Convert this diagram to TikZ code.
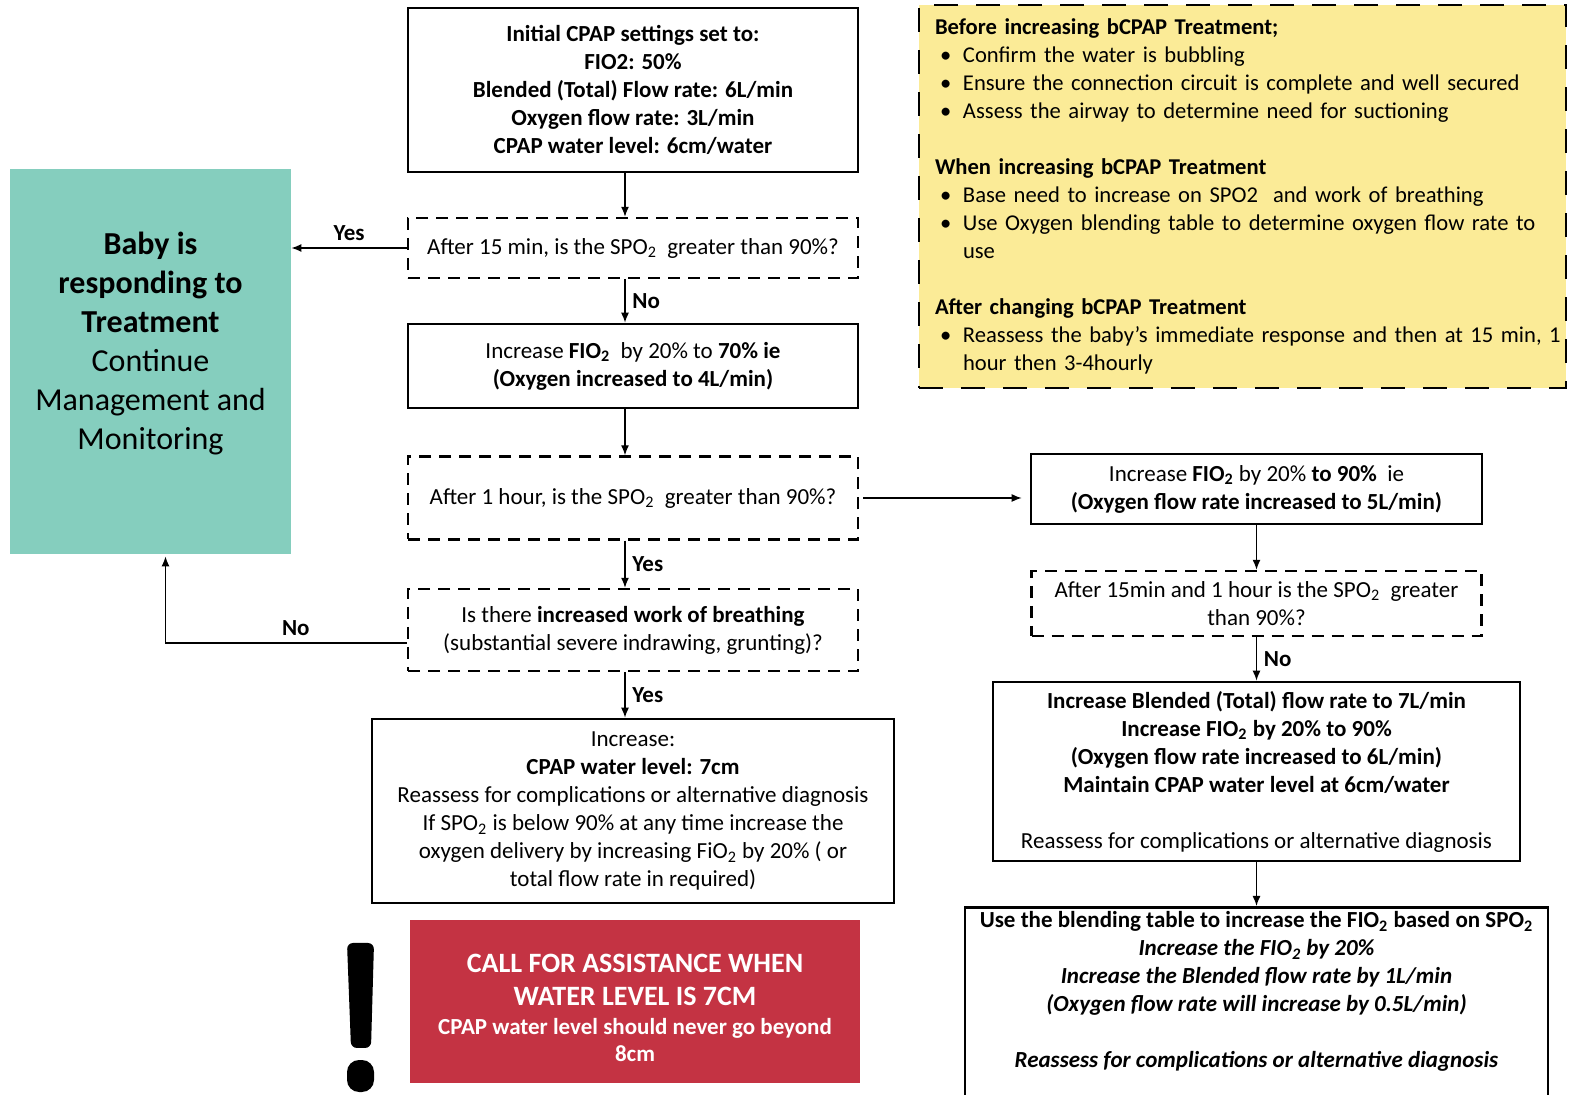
\documentclass[tikz,border=0pt]{standalone}
\usepackage{fontspec}
\setmainfont{Carlito}
\usetikzlibrary{arrows.meta,positioning}

\definecolor{tealbox}{HTML}{85CEBE}
\definecolor{notebg}{HTML}{FBEB97}
\definecolor{alarm}{HTML}{C43343}

\newcommand\osub{\textsubscript{2}}
\newcommand\itm[1]{\par\hangindent=14pt\hangafter=1\noindent\hspace*{2.5pt}\makebox[11.5pt][l]{\textbullet}#1}

\begin{document}
\begin{tikzpicture}[x=0.5pt,y=-0.5pt,
    box/.style={draw,line width=1.3pt,minimum width=225pt,align=center,inner sep=3pt,
                font=\fontsize{11.5}{14}\selectfont},
    ask/.style={box,line width=1.2pt,dash pattern=on 6pt off 4pt},
    arr/.style={-{Latex[length=5pt,width=4pt]},line width=0.7pt},
    lbl/.style={font=\bfseries\fontsize{11.5}{14}\selectfont}]

  \useasboundingbox (0,0) rectangle (1586,1095);
  \coordinate (spine) at (625,0);

  % middle column
  \node[box,minimum height=82pt] (init) at (633,90)
    {\textbf{Initial CPAP settings set to:}\\ \textbf{FIO2: 50\%}\\
     \textbf{Blended (Total) Flow rate: 6L/min}\\ \textbf{Oxygen flow rate: 3L/min}\\
     \textbf{CPAP water level: 6cm/water}};
  \node[ask,minimum height=30pt] (q15) at (633,248)
    {After 15 min, is the SPO\osub\ \ greater than 90\%?};
  \node[box,minimum height=42pt] (inc70) at (633,366)
    {Increase \textbf{FIO\osub}\ \ by 20\% to \textbf{70\% ie}\\ \textbf{(Oxygen increased to 4L/min)}};
  \node[ask,minimum height=41.5pt] (q1h) at (633,498)
    {After 1 hour, is the SPO\osub\ \ greater than 90\%?};
  \node[ask,minimum height=41pt] (wob) at (633,630)
    {Is there \textbf{increased work of breathing}\\ (substantial severe indrawing, grunting)?};
  \node[box,minimum width=261pt,minimum height=92pt] (inc7cm) at (633,811)
    {Increase:\\ \textbf{CPAP water level: 7cm}\\ Reassess for complications or alternative diagnosis\\
     If SPO\osub\ is below 90\% at any time increase the\\
     oxygen delivery by increasing FiO\osub\ by 20\% ( or\\ total flow rate in required)};
  \node[fill=alarm,text=white,minimum width=225pt,minimum height=81.5pt,align=center,
        font=\bfseries\fontsize{14}{16.5}\selectfont] (alarm) at (635,1001.5)
    {\rule{0pt}{16pt}CALL FOR ASSISTANCE WHEN\\ WATER LEVEL IS 7CM\\[-2pt]
     {\fontsize{11.5}{13.5}\selectfont CPAP water level should never go beyond}\\[-3pt]
     {\fontsize{11.5}{13.5}\selectfont 8cm}};

  % warning sign
  \fill[rounded corners=3pt] (347,943) -- (374,943) -- (371,1048) -- (351,1048) -- cycle;
  \fill[rounded corners=6pt] (347,1060) rectangle (374,1092);

  % left outcome
  \node[fill=tealbox,minimum width=140.5pt,minimum height=192.5pt,align=center,
        font=\fontsize{16}{19.5}\selectfont] (teal) at (150.5,361.5)
    {\textbf{Baby is}\\ \textbf{responding to}\\ \textbf{Treatment}\\ Continue\\ Management and\\ Monitoring\\[1pt]\mbox{}};

  % notes
  \node[fill=notebg,draw,line width=1.3pt,dash pattern=on 12pt off 9pt,minimum width=323.5pt,
        minimum height=191.5pt,text width=307.5pt,font=\fontsize{11.3}{14}\selectfont] (note) at (1242.5,196.5)
    {\raggedright\hfuzz=20pt\noindent\textbf{Before increasing bCPAP Treatment;}
     \itm{Confirm the water is bubbling}
     \itm{\mbox{Ensure the connection circuit is complete and well secured}}
     \itm{Assess the airway to determine need for suctioning}
     \par\vspace{14pt}\noindent\textbf{When increasing bCPAP Treatment}
     \itm{Base need to increase on SPO2\ \ and work of breathing}
     \itm{\mbox{Use Oxygen blending table to determine oxygen flow rate to}\newline use}
     \par\vspace{14pt}\noindent\textbf{After changing bCPAP Treatment}
     \itm{\mbox{Reassess the baby’s immediate response and then at 15 min, 1}\newline hour then 3-4hourly}\par};

  % right column
  \node[box,minimum width=225.5pt,minimum height=35pt] (inc90) at (1256.5,489)
    {Increase \textbf{FIO\osub} by 20\% \textbf{to 90\%}\ \ ie\\ \textbf{(Oxygen flow rate increased to 5L/min)}};
  \node[ask,minimum height=32.5pt] (q15m1h) at (1256.5,603.5)
    {After 15min and 1 hour is the SPO\osub\ \ greater\\ than 90\%?};
  \node[box,minimum width=263.5pt,minimum height=89.5pt] (incflow) at (1256.5,771.5)
    {\textbf{Increase Blended (Total) flow rate to 7L/min}\\ \textbf{Increase FIO\osub\ by 20\% to 90\%}\\
     \textbf{(Oxygen flow rate increased to 6L/min)}\\ \textbf{Maintain CPAP water level at 6cm/water}\\[14pt]
     Reassess for complications or alternative diagnosis};
  \node[box,minimum width=291.5pt,anchor=north,inner ysep=2pt] (blend) at (1256.5,906)
    {\textbf{Use the blending table to increase the FIO\osub\ based on SPO\osub}\\
     \textbf{\textit{Increase the FIO\osub\ by 20\%}}\\ \textbf{\textit{Increase the Blended flow rate by 1L/min}}\\
     \textbf{\textit{(Oxygen flow rate will increase by 0.5L/min)}}\\[14pt]
     \textbf{\textit{Reassess for complications or alternative diagnosis}}\\[14pt]\strut};

  % connectors
  \draw[arr] (init.south -| spine) -- (q15.north -| spine);
  \draw[arr] (q15.west) -- node[lbl,above] {Yes} (q15.west -| teal.east);
  \draw[arr] (q15.south -| spine) -- node[lbl,right] {No} (inc70.north -| spine);
  \draw[arr] (inc70.south -| spine) -- (q1h.north -| spine);
  \draw[arr,shorten <=2pt,shorten >=4pt] (q1h.east) -- (q1h.east -| inc90.west);
  \draw[arr] (q1h.south -| spine) -- node[lbl,right] {Yes} (wob.north -| spine);
  \draw[arr,shorten >=1pt] ([yshift=-6.5pt]wob.west) -| node[lbl,above,pos=0.23] {No} ([xshift=7.5pt]teal.south);
  \draw[arr] (wob.south -| spine) -- node[lbl,right] {Yes} (inc7cm.north -| spine);
  \draw[arr] (inc90.south) -- (q15m1h.north);
  \draw[arr] (q15m1h.south) -- node[lbl,right] {No} (incflow.north);
  \draw[arr] (incflow.south) -- (blend.north);
\end{tikzpicture}
\end{document}
